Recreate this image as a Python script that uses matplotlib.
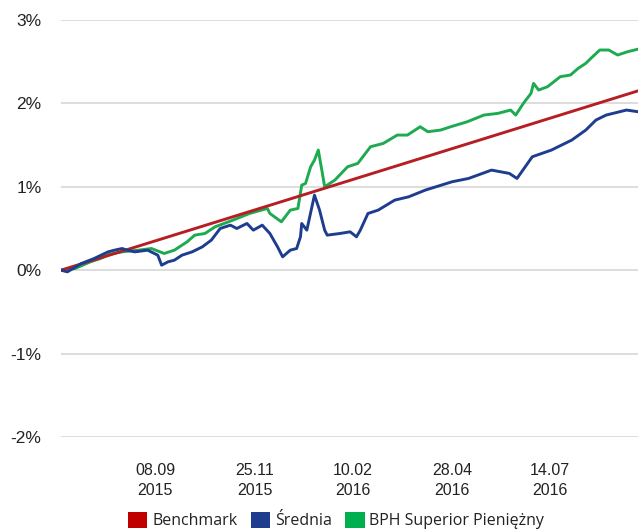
import matplotlib
matplotlib.use("Agg")
import matplotlib.pyplot as plt
from matplotlib.patches import Patch
import pandas as pd

# ── Data (values in %) ────────────────────────────────────────────────────────
bench_dates = ["2015-06-26", "2016-09-21"]
bench_vals = [0.00, 2.15]

bph_dates = [
    "2015-06-26", "2015-07-07", "2015-07-19", "2015-07-27", "2015-08-03", "2015-08-13",
    "2015-08-26", "2015-09-05", "2015-09-15", "2015-09-23", "2015-10-03", "2015-10-09",
    "2015-10-17", "2015-10-25", "2015-11-08", "2015-11-21", "2015-12-05", "2015-12-07",
    "2015-12-16", "2015-12-23", "2015-12-29", "2016-01-01", "2016-01-04", "2016-01-08",
    "2016-01-11", "2016-01-14", "2016-01-17", "2016-01-19", "2016-01-27", "2016-02-06",
    "2016-02-14", "2016-02-24", "2016-03-05", "2016-03-16", "2016-03-24", "2016-04-03",
    "2016-04-09", "2016-04-19", "2016-04-27", "2016-05-10", "2016-05-23", "2016-06-03",
    "2016-06-13", "2016-06-17", "2016-06-23", "2016-06-29", "2016-07-01", "2016-07-05",
    "2016-07-12", "2016-07-22", "2016-07-30", "2016-08-05", "2016-08-11", "2016-08-15",
    "2016-08-22", "2016-08-29", "2016-09-05", "2016-09-13", "2016-09-21",
]
bph_vals = [
    0.00, 0.02, 0.10, 0.14, 0.19, 0.22,
    0.24, 0.26, 0.20, 0.24, 0.34, 0.42,
    0.44, 0.52, 0.60, 0.68, 0.74, 0.68,
    0.58, 0.72, 0.74, 1.02, 1.04, 1.24,
    1.32, 1.44, 1.18, 1.00, 1.08, 1.24,
    1.28, 1.48, 1.52, 1.62, 1.62, 1.72,
    1.66, 1.68, 1.72, 1.78, 1.86, 1.88,
    1.92, 1.86, 2.00, 2.12, 2.24, 2.16,
    2.20, 2.32, 2.34, 2.42, 2.48, 2.54,
    2.64, 2.64, 2.58, 2.62, 2.65,
]

avg_dates = [
    "2015-06-26", "2015-07-01", "2015-07-12", "2015-07-22", "2015-08-02", "2015-08-07",
    "2015-08-13", "2015-08-17", "2015-08-23", "2015-09-02", "2015-09-10", "2015-09-13",
    "2015-09-18", "2015-09-23", "2015-09-29", "2015-10-07", "2015-10-15", "2015-10-22",
    "2015-10-29", "2015-11-06", "2015-11-11", "2015-11-19", "2015-11-24", "2015-12-01",
    "2015-12-07", "2015-12-13", "2015-12-17", "2015-12-23", "2015-12-28", "2015-12-31",
    "2016-01-01", "2016-01-05", "2016-01-09", "2016-01-11", "2016-01-15", "2016-01-19",
    "2016-01-21", "2016-01-31", "2016-02-08", "2016-02-13", "2016-02-16", "2016-02-22",
    "2016-03-01", "2016-03-14", "2016-03-25", "2016-04-07", "2016-04-28", "2016-05-11",
    "2016-05-29", "2016-06-12", "2016-06-18", "2016-06-30", "2016-07-15", "2016-07-31",
    "2016-08-11", "2016-08-19", "2016-08-27", "2016-09-12", "2016-09-21",
]
avg_vals = [
    0.00, -0.02, 0.08, 0.14, 0.22, 0.24,
    0.26, 0.24, 0.22, 0.24, 0.18, 0.06,
    0.10, 0.12, 0.18, 0.22, 0.28, 0.36,
    0.50, 0.54, 0.50, 0.56, 0.48, 0.54,
    0.44, 0.28, 0.16, 0.24, 0.26, 0.40,
    0.56, 0.48, 0.76, 0.90, 0.72, 0.48,
    0.42, 0.44, 0.46, 0.40, 0.48, 0.68,
    0.72, 0.84, 0.88, 0.96, 1.06, 1.10,
    1.20, 1.16, 1.10, 1.36, 1.44, 1.56,
    1.68, 1.80, 1.86, 1.92, 1.90,
]

tick_dates = ["2015-09-08", "2015-11-25", "2016-02-10", "2016-04-28", "2016-07-14"]
y_ticks = [-2, -1, 0, 1, 2, 3]

labels = ["Benchmark", "Średnia", "BPH Superior Pieniężny"]
colors = ["#C00000", "#1F3D8F", "#00B050"]

# ── Plot ──────────────────────────────────────────────────────────────────────
plt.rcParams['font.family'] = ['Liberation Sans', 'DejaVu Sans']

fig = plt.figure(figsize=(6.38, 5.30), dpi=100)
ax = fig.add_axes([0.0956, 0.1755, 0.9044, 0.7868])

ax.plot(pd.to_datetime(bench_dates), bench_vals, color="#B51F24", lw=2.1, zorder=3)
ax.plot(pd.to_datetime(avg_dates), avg_vals, color=colors[1], lw=2.1, zorder=4)
ax.plot(pd.to_datetime(bph_dates), bph_vals, color="#1DAA50", lw=2.1, zorder=2)

ax.set_ylim(-2, 3)
ax.set_xlim(pd.Timestamp(bench_dates[0]), pd.Timestamp(bench_dates[-1]))
ax.set_yticks(y_ticks)
ax.set_yticklabels([f"{v}%" for v in y_ticks], fontsize=12.5, color="#222222")

tks = pd.to_datetime(tick_dates)
ax.set_xticks(tks)
ax.set_xticklabels([f"{d:%d.%m}\n{d:%Y}" for d in tks], fontsize=11.5,
                   color="#222222", linespacing=1.35)

ax.grid(axis='y', color="#DDDDDD", lw=1.4, zorder=0)
ax.tick_params(axis='both', length=0)
ax.tick_params(axis='y', pad=14)
ax.tick_params(axis='x', pad=19)
for s in ax.spines.values():
    s.set_visible(False)

handles = [Patch(facecolor=c, edgecolor='none') for c in colors]
fig.legend(handles, labels, loc='center', bbox_to_anchor=(0.527, 0.018),
           ncol=3, frameon=False, prop={'family': 'Open Sans', 'size': 11.5},
           handlelength=1.2, handleheight=1.2, handletextpad=0.3,
           columnspacing=0.85, labelcolor="#222222")

fig.savefig("out.png", dpi=100)
